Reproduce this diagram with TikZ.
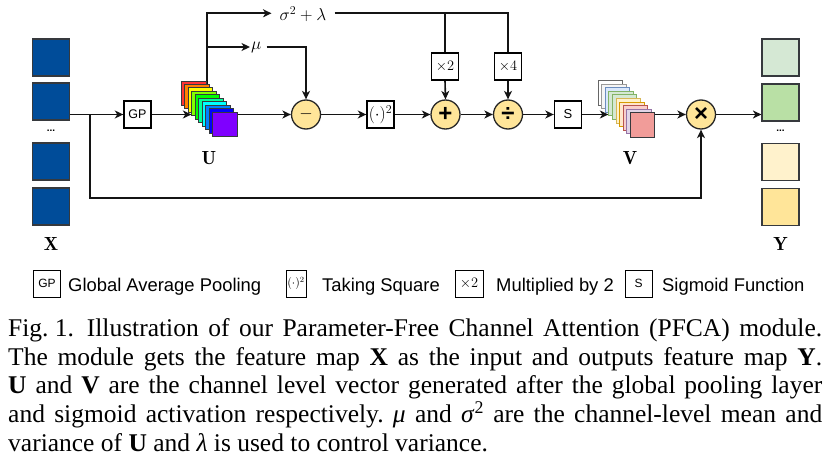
\documentclass[tikz,border=0pt]{standalone}
\usepackage{fontspec}
\newfontfamily\capfont{Liberation Serif}
\newfontfamily\arial{Liberation Sans}
\usetikzlibrary{arrows.meta}
\pgfdeclarelayer{bg}
\pgfsetlayers{bg,main}
\definecolor{circfill}{HTML}{FFE599}
\definecolor{xblue}{HTML}{004C99}
\definecolor{edgegray}{HTML}{36393D}
\definecolor{u0}{HTML}{FF3333}
\definecolor{u1}{HTML}{FF8000}
\definecolor{u2}{HTML}{FFFF00}
\definecolor{u3}{HTML}{80FF00}
\definecolor{u4}{HTML}{00FF00}
\definecolor{u5}{HTML}{00FF99}
\definecolor{u6}{HTML}{00FFFF}
\definecolor{u7}{HTML}{0080FF}
\definecolor{u8}{HTML}{0000FF}
\definecolor{u9}{HTML}{7F00FF}
\definecolor{vf0}{HTML}{FFFFFF}\definecolor{vd0}{HTML}{666666}
\definecolor{vf1}{HTML}{F5F5F5}\definecolor{vd1}{HTML}{999999}
\definecolor{vf2}{HTML}{DAE8FC}\definecolor{vd2}{HTML}{6C8EBF}
\definecolor{vf3}{HTML}{D5E8D4}\definecolor{vd3}{HTML}{82B366}
\definecolor{vf4}{HTML}{D5E8D4}\definecolor{vd4}{HTML}{82B366}
\definecolor{vf5}{HTML}{FFF2CC}\definecolor{vd5}{HTML}{D6B656}
\definecolor{vf6}{HTML}{FFE6CC}\definecolor{vd6}{HTML}{D79B00}
\definecolor{vf7}{HTML}{F8CECC}\definecolor{vd7}{HTML}{B85450}
\definecolor{vf8}{HTML}{E1D5E7}\definecolor{vd8}{HTML}{9673A6}
\definecolor{vf9}{HTML}{F19C99}\definecolor{vd9}{HTML}{36393D}
\definecolor{ya}{HTML}{D5E8D4}
\definecolor{yb}{HTML}{B9E0A5}
\definecolor{yc}{HTML}{FFF2CC}
\definecolor{yd}{HTML}{FFE599}
\tikzset{
  ln/.style={line width=1.6pt, draw=black!92},
  arr/.style={ln, -{Stealth[length=8.5pt,width=8pt,inset=2.5pt]}},
  opbox/.style={draw=black, line width=1.4pt, fill=white, minimum width=27pt, minimum height=27pt, inner sep=0pt},
  lgbox/.style={draw=black, line width=1pt, fill=white, minimum height=27pt, inner sep=0pt},
  circ/.style={circle, draw=black!85, line width=1.3pt, fill=circfill, minimum size=29pt, inner sep=0pt},
  fmap/.style={draw=edgegray, line width=1.2pt, minimum width=37pt, minimum height=37pt, inner sep=0pt},
  usq/.style={draw=edgegray, line width=0.9pt, minimum size=24.5pt, inner sep=0pt},
  biglbl/.style={font=\fontsize{19}{22}\selectfont, inner sep=0pt},
  mlbl/.style={font=\fontsize{17.28}{20}\selectfont, inner sep=0pt},
  lgtext/.style={font=\arial\fontsize{18.4}{22}\selectfont, anchor=base west, inner sep=0pt},
  capline/.style={font=\capfont\fontsize{25.5}{29}\selectfont, anchor=base west, inner sep=0pt},
  symb/.style={font=\arial\bfseries\fontsize{24}{24}\selectfont}
}
\begin{document}
\begin{tikzpicture}[x=1pt,y=-1pt]
\useasboundingbox (0,0) rectangle (827,457);
% input feature maps X
\node[fmap, fill=xblue] (x1) at (51,57.5) {};
\node[fmap, fill=xblue] (x2) at (51,101.5) {};
\node[font=\arial\bfseries\fontsize{10}{10}\selectfont, anchor=base, inner sep=0pt] (xd) at (51,132) {...};
\node[fmap, fill=xblue] (x3) at (51,161.5) {};
\node[fmap, fill=xblue] (x4) at (51,206.5) {};
\node[biglbl] (xl) at (51,244) {$\mathbf{X}$};
% output feature maps Y
\node[fmap, fill=ya] (y1) at (780.5,57.5) {};
\node[fmap, fill=yb] (y2) at (780.5,102.5) {};
\node[font=\arial\bfseries\fontsize{10}{10}\selectfont, anchor=base, inner sep=0pt] (yd) at (780.5,132) {...};
\node[fmap, fill=yc] (y3) at (780.5,162) {};
\node[fmap, fill=yd] (y4) at (780.5,207) {};
\node[biglbl] (yl) at (780.5,244) {$\mathbf{Y}$};
% operators
\node[opbox, font=\arial\fontsize{12.5}{14}\selectfont] (gp) at (137.5,114.5) {GP};
\node[circ, font=\fontsize{17.28}{18}\selectfont] (minus) at (306,114.5) {$-$};
\node[opbox, font=\fontsize{17.28}{18}\selectfont] (sqr) at (380.5,114.5) {$(\cdot)^2$};
\node[circ, symb] (plus) at (445.5,114.5) {+};
\node[circ, symb] (div) at (508,114.5) {÷};
\node[opbox, font=\arial\fontsize{13}{14}\selectfont] (sg) at (568,114.5) {S};
\node[circ, symb] (mul) at (701,114.5) {×};
\node[opbox, font=\fontsize{14.4}{16}\selectfont] (m2) at (445,66.5) {$\times 2$};
\node[opbox, font=\fontsize{14.4}{16}\selectfont] (m4) at (508,66.5) {$\times 4$};
% U stack
\foreach \i in {0,...,9}{
  \node[usq, fill=u\i] (u\i) at ({193.75+3.44*\i},{93.25+3.44*\i}) {};
}
\node[biglbl] (ul) at (209,158) {$\mathbf{U}$};
% V stack
\foreach \i in {0,...,9}{
  \node[usq, fill=vf\i, draw=vd\i] (v\i) at ({610.25+3.6*\i},{92.75+3.6*\i}) {};
}
\node[biglbl] (vl) at (630,158) {$\mathbf{V}$};
% labels
\node[mlbl, anchor=base, inner xsep=8pt] (sig) at (303,20.5) {$\sigma^2+\lambda$};
\node[mlbl, anchor=base west, inner xsep=1pt] (mu) at (250,50) {$\mu$};
\coordinate (sigrow) at (0,13.3);
\coordinate (murow) at (0,47);
\coordinate (ubr) at (207,100);
\coordinate (bot) at (90,198);
% connectors
\begin{pgfonlayer}{bg}
\draw[arr] (x2.east |- gp) -- (gp.west);
\draw[arr] (gp.east) -- (u3.west |- gp);
\draw[arr] (u9.east |- minus) -- (minus.west);
\draw[arr] (ubr) -- (ubr |- sigrow) -- (sig.west |- sigrow);
\draw[arr] (ubr |- murow) -- (mu.west |- murow);
\draw[arr] ([xshift=4pt]mu.east |- murow) -| (minus.north);
\draw[ln] (sig.east |- sigrow) -| (m4.north);
\draw[ln] (m2.north |- sigrow) -- (m2.north);
\draw[arr] (m2.south) -- (plus.north);
\draw[arr] (m4.south) -- (div.north);
\draw[arr] (minus.east) -- (sqr.west);
\draw[arr] (sqr.east) -- (plus.west);
\draw[arr] (plus.east) -- (div.west);
\draw[arr] (div.east) -- (sg.west);
\draw[arr] (sg.east) -- (v3.west |- sg);
\draw[arr] (v9.east |- mul) -- (mul.west);
\draw[arr] (mul.east) -- (y2.west |- mul);
\draw[arr] (bot |- gp) -- (bot) -| (mul.south);
\end{pgfonlayer}
% legend
\node[lgbox, minimum width=27pt, font=\arial\fontsize{12}{13}\selectfont] (lgp) at (47,283.5) {GP};
\node[lgtext] (lgpt) at (68,291.5) {Global Average Pooling};
\node[lgbox, minimum width=20pt, inner xsep=1pt, font=\fontsize{12}{13}\selectfont] (lsq) at (296,283.5) {$(\cdot)^2$};
\node[lgtext] (lsqt) at (322,291.5) {Taking Square};
\node[lgbox, minimum width=28pt, font=\fontsize{14.4}{15}\selectfont] (lm2) at (469,283.5) {$\times 2$};
\node[lgtext] (lm2t) at (496,291.5) {Multiplied by 2};
\node[lgbox, minimum width=27pt, font=\arial\fontsize{12}{13}\selectfont] (ls) at (638.5,283.5) {S};
\node[lgtext] (lst) at (662,291.5) {Sigmoid Function};
% caption
\node[capline] (c1) at (8,336.7) {\frenchspacing\makebox[814pt][s]{Fig.\hspace{0.25em}1.\hspace{0.5em}Illustration of our Parameter-Free Channel Attention (PFCA) module.}};
\node[capline] (c2) at (8,365.3) {\frenchspacing\makebox[814pt][s]{The module gets the feature map \textbf{X} as the input and outputs feature map \textbf{Y}.}};
\node[capline] (c3) at (8,393.9) {\frenchspacing\makebox[814pt][s]{\textbf{U} and \textbf{V} are the channel level vector generated after the global pooling layer}};
\node[capline] (c4) at (8,422.5) {\frenchspacing\makebox[814pt][s]{and sigmoid activation respectively. \textit{μ} and \textit{σ}\textsuperscript{2} are the channel-level mean and}};
\node[capline] (c5) at (8,451) {\frenchspacing variance of \textbf{U} and \textit{λ} is used to control variance.};
\end{tikzpicture}
\end{document}
